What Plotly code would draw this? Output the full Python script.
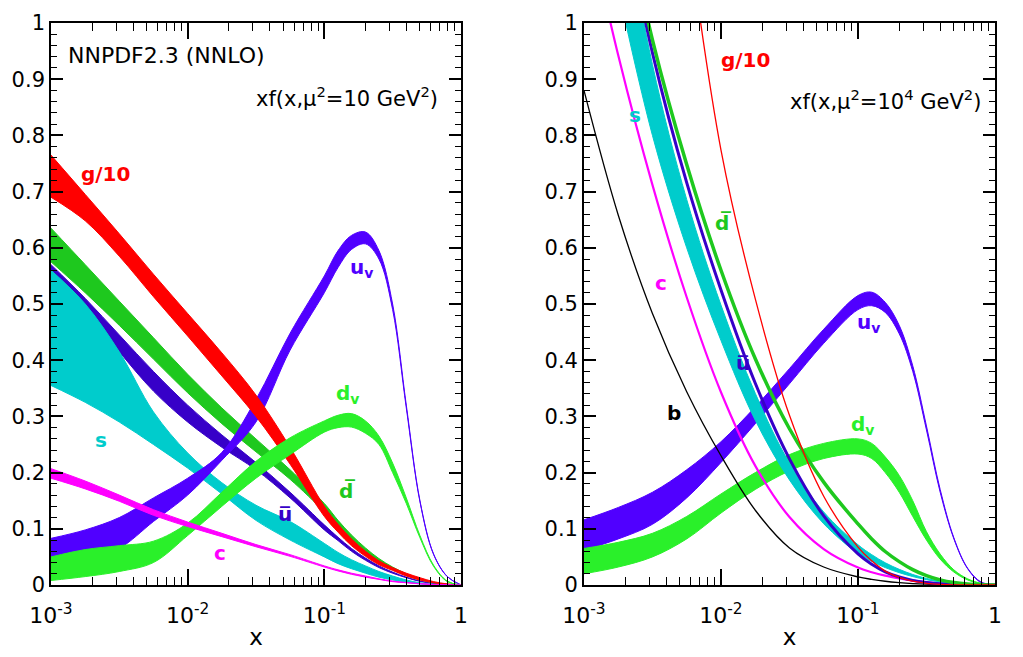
import plotly.graph_objects as go

# ---------------- data ----------------
# common x grid (log-spaced), values are x
X = [0.001, 0.00178, 0.00316, 0.00562, 0.01, 0.0178, 0.0316, 0.0562, 0.1,
     0.126, 0.158, 0.2, 0.251, 0.316, 0.398, 0.501, 0.631, 0.794, 1.0]

# Left panel: mu^2 = 10 GeV^2  (upper / lower edge of each band)
L_G_UP = [0.765, 0.695, 0.625, 0.553, 0.483, 0.413, 0.338, 0.245, 0.14, 0.108, 0.082, 0.06, 0.043, 0.031, 0.021, 0.013, 0.006, 0.002, 0.0]
L_G_LO = [0.69, 0.648, 0.585, 0.513, 0.443, 0.372, 0.30, 0.215, 0.122, 0.094, 0.07, 0.051, 0.036, 0.026, 0.016, 0.009, 0.004, 0.001, 0.0]
L_DBAR_UP = [0.635, 0.57, 0.505, 0.44, 0.375, 0.315, 0.26, 0.205, 0.145, 0.115, 0.089, 0.066, 0.047, 0.032, 0.02, 0.011, 0.005, 0.0015, 0.0]
L_DBAR_LO = [0.575, 0.52, 0.462, 0.402, 0.342, 0.287, 0.237, 0.188, 0.13, 0.103, 0.079, 0.058, 0.041, 0.028, 0.017, 0.009, 0.004, 0.001, 0.0]
L_UBAR_UP = [0.57, 0.51, 0.445, 0.38, 0.32, 0.267, 0.218, 0.165, 0.107, 0.085, 0.065, 0.048, 0.034, 0.023, 0.014, 0.007, 0.003, 0.001, 0.0]
L_UBAR_LO = [0.55, 0.49, 0.415, 0.345, 0.29, 0.245, 0.205, 0.155, 0.098, 0.079, 0.06, 0.044, 0.031, 0.021, 0.013, 0.0065, 0.0025, 0.0008, 0.0]
L_S_UP = [0.56, 0.50, 0.415, 0.308, 0.235, 0.182, 0.142, 0.113, 0.074, 0.058, 0.045, 0.034, 0.024, 0.016, 0.009, 0.004, 0.0015, 0.0005, 0.0]
L_S_LO = [0.355, 0.325, 0.29, 0.25, 0.208, 0.162, 0.115, 0.08, 0.05, 0.038, 0.029, 0.021, 0.014, 0.009, 0.005, 0.002, 0.0008, 0.0002, 0.0]
L_C_UP = [0.207, 0.185, 0.16, 0.134, 0.112, 0.092, 0.072, 0.054, 0.034, 0.027, 0.021, 0.016, 0.011, 0.007, 0.0045, 0.0025, 0.001, 0.0003, 0.0]
L_C_LO = [0.19, 0.171, 0.149, 0.124, 0.104, 0.086, 0.068, 0.051, 0.032, 0.025, 0.019, 0.014, 0.01, 0.006, 0.004, 0.002, 0.0008, 0.0002, 0.0]
L_UV_UP = [0.083, 0.098, 0.12, 0.155, 0.19, 0.236, 0.33, 0.448, 0.55, 0.595, 0.622, 0.628, 0.595, 0.50, 0.32, 0.15, 0.055, 0.015, 0.0]
L_UV_LO = [0.03, 0.043, 0.065, 0.113, 0.16, 0.222, 0.29, 0.418, 0.52, 0.565, 0.597, 0.607, 0.58, 0.49, 0.315, 0.148, 0.054, 0.015, 0.0]
L_DV_UP = [0.05, 0.063, 0.07, 0.078, 0.11, 0.165, 0.22, 0.262, 0.292, 0.302, 0.305, 0.292, 0.265, 0.217, 0.155, 0.088, 0.035, 0.007, 0.0]
L_DV_LO = [0.008, 0.015, 0.024, 0.04, 0.088, 0.14, 0.19, 0.232, 0.272, 0.28, 0.281, 0.27, 0.25, 0.2, 0.145, 0.084, 0.033, 0.006, 0.0]

# Right panel: mu^2 = 10^4 GeV^2
R_UV_UP = [0.116, 0.138, 0.165, 0.205, 0.255, 0.317, 0.385, 0.455, 0.515, 0.521, 0.503, 0.462, 0.39, 0.283, 0.17, 0.084, 0.03, 0.005, 0.0]
R_UV_LO = [0.062, 0.082, 0.108, 0.155, 0.218, 0.287, 0.358, 0.43, 0.49, 0.497, 0.485, 0.447, 0.38, 0.276, 0.165, 0.082, 0.029, 0.004, 0.0]
R_DV_UP = [0.065, 0.076, 0.092, 0.122, 0.162, 0.2, 0.232, 0.252, 0.26, 0.252, 0.228, 0.195, 0.15, 0.095, 0.055, 0.027, 0.011, 0.003, 0.0]
R_DV_LO = [0.02, 0.032, 0.05, 0.082, 0.128, 0.17, 0.203, 0.225, 0.233, 0.225, 0.2, 0.165, 0.122, 0.08, 0.046, 0.023, 0.009, 0.0025, 0.0]
R_S_UP = [None, 1.25, 0.926, 0.686, 0.498, 0.341, 0.217, 0.13, 0.0716, 0.054, 0.0396, 0.0279, 0.0187, 0.0117, 0.0067, 0.0035, 0.0015, 0.0004, 0.0]
R_S_LO = [None, 1.06, 0.80, 0.60, 0.435, 0.293, 0.187, 0.109, 0.056, 0.042, 0.031, 0.022, 0.015, 0.0095, 0.0055, 0.0027, 0.001, 0.0003, 0.0]
R_G = [None, None, None, 1.18, 0.774, 0.509, 0.302, 0.158, 0.0675, 0.043, 0.0247, 0.0136, 0.0067, 0.003, 0.0012, 0.0004, 0.0001, 0.0, 0.0]
R_DBAR = [None, 1.25, 0.97, 0.748, 0.56, 0.4025, 0.278, 0.183, 0.1086, 0.082, 0.0596, 0.0416, 0.0273, 0.0166, 0.0091, 0.0043, 0.0016, 0.0004, 0.0]
R_UBAR = [None, 1.24, 0.947, 0.716, 0.525, 0.359, 0.2245, 0.123, 0.0554, 0.037, 0.0235, 0.0143, 0.0082, 0.0045, 0.0022, 0.0009, 0.0003, 0.0001, 0.0]
R_C = [1.21, 0.942, 0.712, 0.512, 0.343, 0.212, 0.121, 0.064, 0.031, 0.0228, 0.0166, 0.0117, 0.0078, 0.005, 0.0027, 0.0012, 0.0004, 0.0001, 0.0]
R_B = [0.88, 0.658, 0.483, 0.344, 0.230, 0.133, 0.066, 0.032, 0.0144, 0.010, 0.0067, 0.0043, 0.0026, 0.0014, 0.0006, 0.0002, 0.0, 0.0, 0.0]

X_TICKS = [0.001, 0.01, 0.1, 1]
X_TICKTEXT = ["10<sup>-3</sup>", "10<sup>-2</sup>", "10<sup>-1</sup>", "1"]
Y_TICKS = [0, 0.1, 0.2, 0.3, 0.4, 0.5, 0.6, 0.7, 0.8, 0.9, 1.0]
Y_TICKTEXT = ["0", "0.1", "0.2", "0.3", "0.4", "0.5", "0.6", "0.7", "0.8", "0.9", "1"]

# colours
C_G = "#ff0000"
C_UV = "#5000ff"
C_UBAR = "#3700c8"
C_DV = "#2af02a"
C_DBAR = "#1ec81e"
C_S = "#00cccc"
C_C = "#ff00ff"
C_B = "#000000"

fig = go.Figure()


def band(lo, up, color, xa, ya):
    fig.add_trace(go.Scatter(x=X, y=lo, mode="lines", xaxis=xa, yaxis=ya,
                             line=dict(color=color, width=1, shape="spline", smoothing=1.0),
                             hoverinfo="skip", showlegend=False))
    fig.add_trace(go.Scatter(x=X, y=up, mode="lines", xaxis=xa, yaxis=ya,
                             line=dict(color=color, width=1, shape="spline", smoothing=1.0),
                             fill="tonexty", fillcolor=color,
                             hoverinfo="skip", showlegend=False))


def curve(y, color, width, xa, ya):
    fig.add_trace(go.Scatter(x=X, y=y, mode="lines", xaxis=xa, yaxis=ya,
                             line=dict(color=color, width=width, shape="spline", smoothing=1.0),
                             hoverinfo="skip", showlegend=False))


# left panel
band(L_UBAR_LO, L_UBAR_UP, C_UBAR, "x", "y")
band(L_S_LO, L_S_UP, C_S, "x", "y")
band(L_DBAR_LO, L_DBAR_UP, C_DBAR, "x", "y")
band(L_UV_LO, L_UV_UP, C_UV, "x", "y")
band(L_G_LO, L_G_UP, C_G, "x", "y")
band(L_DV_LO, L_DV_UP, C_DV, "x", "y")
band(L_C_LO, L_C_UP, C_C, "x", "y")

# right panel
band(R_UV_LO, R_UV_UP, C_UV, "x2", "y2")
band(R_DV_LO, R_DV_UP, C_DV, "x2", "y2")
curve(R_B, C_B, 1.3, "x2", "y2")
curve(R_C, C_C, 2.2, "x2", "y2")
band(R_S_LO, R_S_UP, C_S, "x2", "y2")
curve(R_UBAR, C_UBAR, 3, "x2", "y2")
curve(R_DBAR, C_DBAR, 3.5, "x2", "y2")
curve(R_G, C_G, 1.3, "x2", "y2")

FONT = "DejaVu Sans, Verdana, sans-serif"
minor_x = [m * 10 ** e for e in (-3, -2, -1) for m in range(2, 10)]

xcommon = dict(type="log", range=[-3, 0], showline=True, linecolor="black", linewidth=1.6,
               mirror="allticks", ticks="inside", ticklen=16, tickwidth=1.5, tickcolor="black",
               tickmode="array", tickvals=X_TICKS, ticktext=X_TICKTEXT,
               minor=dict(ticks="inside", ticklen=8, tickwidth=1.2, tickcolor="black",
                          tickmode="array", tickvals=minor_x, showgrid=False),
               showgrid=False, zeroline=False, ticklabelstandoff=10, automargin=False,
               tickfont=dict(family=FONT, size=22, color="black"),
               title=dict(text="x", font=dict(family=FONT, size=23, color="black"), standoff=2))
ycommon = dict(range=[0, 1], showline=True, linecolor="black", linewidth=1.6,
               mirror="allticks", ticks="inside", ticklen=12, tickwidth=1.5, tickcolor="black",
               tickmode="array", tickvals=Y_TICKS, ticktext=Y_TICKTEXT,
               minor=dict(ticks="inside", ticklen=6, tickwidth=1.2, tickcolor="black",
                          dtick=0.02, showgrid=False),
               showgrid=False, zeroline=False, automargin=False,
               tickfont=dict(family=FONT, size=21, color="black"))

# the page body adds an 8px offset, so the figure is drawn 8px smaller
fig.update_layout(
    width=1015, height=649,
    margin=dict(l=43, r=28, t=15, b=72, autoexpand=False),
    paper_bgcolor="white", plot_bgcolor="white",
    showlegend=False,
    xaxis=dict(domain=[0, 0.4343], anchor="y", **xcommon),
    yaxis=dict(domain=[0, 1], anchor="x", **ycommon),
    xaxis2=dict(domain=[0.5646, 1.0], anchor="y2", **xcommon),
    yaxis2=dict(domain=[0, 1], anchor="x2", **ycommon),
)

anns = [
    dict(text="NNPDF2.3 (NNLO)", xref="x domain", yref="y domain", x=0.036, y=0.943,
         xanchor="left", yanchor="middle", font=dict(family=FONT, size=22, color="black")),
    dict(text="xf(x,\u03bc<sup>2</sup>=10 GeV<sup>2</sup>)", xref="x domain", yref="y domain",
         x=0.949, y=0.868, xanchor="right", yanchor="middle",
         font=dict(family=FONT, size=21, color="black")),
    dict(text="xf(x,\u03bc<sup>2</sup>=10<sup>4</sup> GeV<sup>2</sup>)", xref="x2 domain", yref="y2 domain",
         x=0.971, y=0.863, xanchor="right", yanchor="middle",
         font=dict(family=FONT, size=21, color="black")),
]

LABELS = [
    # text, x (log10), y, color, axis suffix
    ("g/10", -2.6, 0.731, C_G, ""),
    ("u<sub>v</sub>", -0.73, 0.564, C_UV, ""),
    ("d<sub>v</sub>", -0.83, 0.340, C_DV, ""),
    ("s", -2.634, 0.258, C_S, ""),
    ("u\u0305", -1.288, 0.126, C_UBAR, ""),
    ("d\u0305", -0.835, 0.167, C_DBAR, ""),
    ("c", -1.764, 0.057, C_C, ""),
    ("g/10", -1.818, 0.934, C_G, "2"),
    ("s", -2.628, 0.836, C_S, "2"),
    ("d\u0305", -1.985, 0.644, C_DBAR, "2"),
    ("c", -2.438, 0.537, C_C, "2"),
    ("u\u0305", -1.839, 0.395, C_UBAR, "2"),
    ("b", -2.343, 0.306, C_B, "2"),
    ("u<sub>v</sub>", -0.92, 0.466, C_UV, "2"),
    ("d<sub>v</sub>", -0.965, 0.285, C_DV, "2"),
]
for txt, lx, yv, col, sfx in LABELS:
    anns.append(dict(text="<b>" + txt + "</b>", x=lx, y=yv, xref="x" + sfx, yref="y" + sfx,
                     showarrow=False, xanchor="center", yanchor="middle",
                     font=dict(family=FONT, size=20, color=col)))
for a in anns:
    a.setdefault("showarrow", False)
fig.update_layout(annotations=anns)

fig.write_html("out.html")
